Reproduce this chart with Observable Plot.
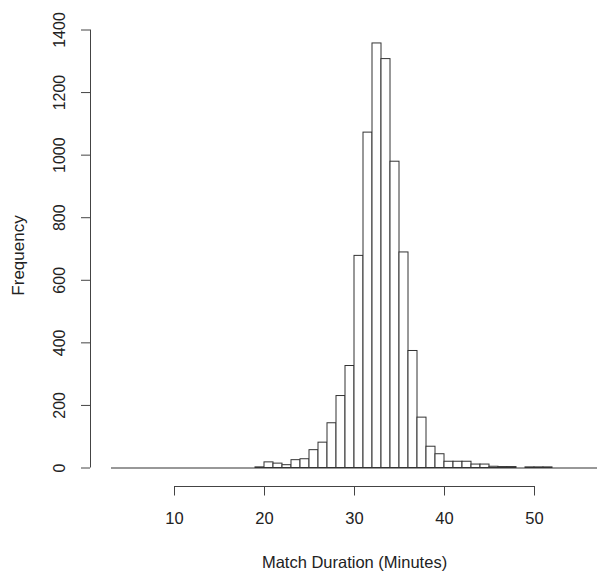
<!DOCTYPE html>
<html>
<head>
<meta charset="utf-8">
<script src="https://cdn.jsdelivr.net/npm/d3@7"></script>
<script src="https://cdn.jsdelivr.net/npm/@observablehq/plot@0.6"></script>
<style>
  html, body { margin: 0; padding: 0; background: #fff; }
  svg { display: block; }
</style>
</head>
<body>
<div id="chart"></div>
<script>
// Histogram bins (1-minute wide), left edges
const binStarts = d3.range(3, 57);
// Frequencies, one per bin (3–4 ... 56–57)
const counts = [
  0, 0, 0, 0, 0, 0, 0, 0, 0, 0, 0, 0, 0, 0, 0, 0, // 3..18
  2, 18, 14, 9, 25, 28, 57, 81, 143, 230,         // 19..28
  326, 678, 1072, 1357, 1307, 979, 689, 374, 161, 68, // 29..38
  44, 20, 20, 20, 11, 11, 4, 3, 3, 0,             // 39..48
  2, 2, 2, 0, 0, 0, 0, 0                          // 49..56
];
const binWidth = 1;
const xTicks = [10, 20, 30, 40, 50];
const yTicks = [0, 200, 400, 600, 800, 1000, 1200, 1400];
const xTitle = "Match Duration (Minutes)";
const yTitle = "Frequency";

const bins = binStarts.map((s, i) => ({x1: s, x2: s + binWidth, count: counts[i]}));
const font = "'Liberation Sans', Arial, Helvetica, sans-serif";
const ink = "#222";

const chart = Plot.plot({
  width: 597,
  height: 575,
  marginLeft: 111,
  marginRight: 0,
  marginTop: 29.5,
  marginBottom: 107.5,
  style: {fontFamily: font, fontSize: "16px", color: ink, background: "#fff", overflow: "visible"},
  x: {domain: [binStarts[0], binStarts[binStarts.length - 1] + binWidth]},
  y: {domain: [0, 1400]},
  marks: [
    // bars
    Plot.rectY(bins, {x1: "x1", x2: "x2", y: "count", fill: "white", stroke: "#333", strokeWidth: 1, inset: 0}),
    // zero-height bins show as a line along the baseline
    Plot.ruleY([0], {x1: binStarts[0], x2: binStarts[binStarts.length - 1] + binWidth, stroke: "#333", strokeWidth: 1.2}),
    // x axis (R style, detached below)
    Plot.ruleY([0], {x1: xTicks[0], x2: xTicks[xTicks.length - 1], dy: 18.5, stroke: "#444"}),
    Plot.axisX({ticks: xTicks, anchor: "bottom", tickSize: 9.5, tickPadding: 16, dy: 18.5, stroke: "#444", fontSize: 16.5, label: null, tickFormat: d => d}),
    Plot.text([xTitle], {frameAnchor: "bottom", dy: 94.5, fontSize: 16.5, fill: ink, lineAnchor: "middle"}),
    // y axis (R style, detached left)
    Plot.ruleX([binStarts[0]], {y1: yTicks[0], y2: yTicks[yTicks.length - 1], dx: -21, stroke: "#444"}),
    Plot.axisY({ticks: yTicks, anchor: "left", tickSize: 9, dx: -21, stroke: "#444", tickFormat: () => "", label: null}),
    Plot.text(yTicks, {y: d => d, text: d => String(d), frameAnchor: "left", dx: -52, rotate: -90, fontSize: 16, fill: ink, lineAnchor: "middle", textAnchor: "middle"}),
    Plot.text([yTitle], {frameAnchor: "left", dx: -93, dy: 6.5, rotate: -90, fontSize: 17, fill: ink, lineAnchor: "middle", textAnchor: "middle"})
  ]
});
document.getElementById("chart").appendChild(chart);
</script>
</body>
</html>
